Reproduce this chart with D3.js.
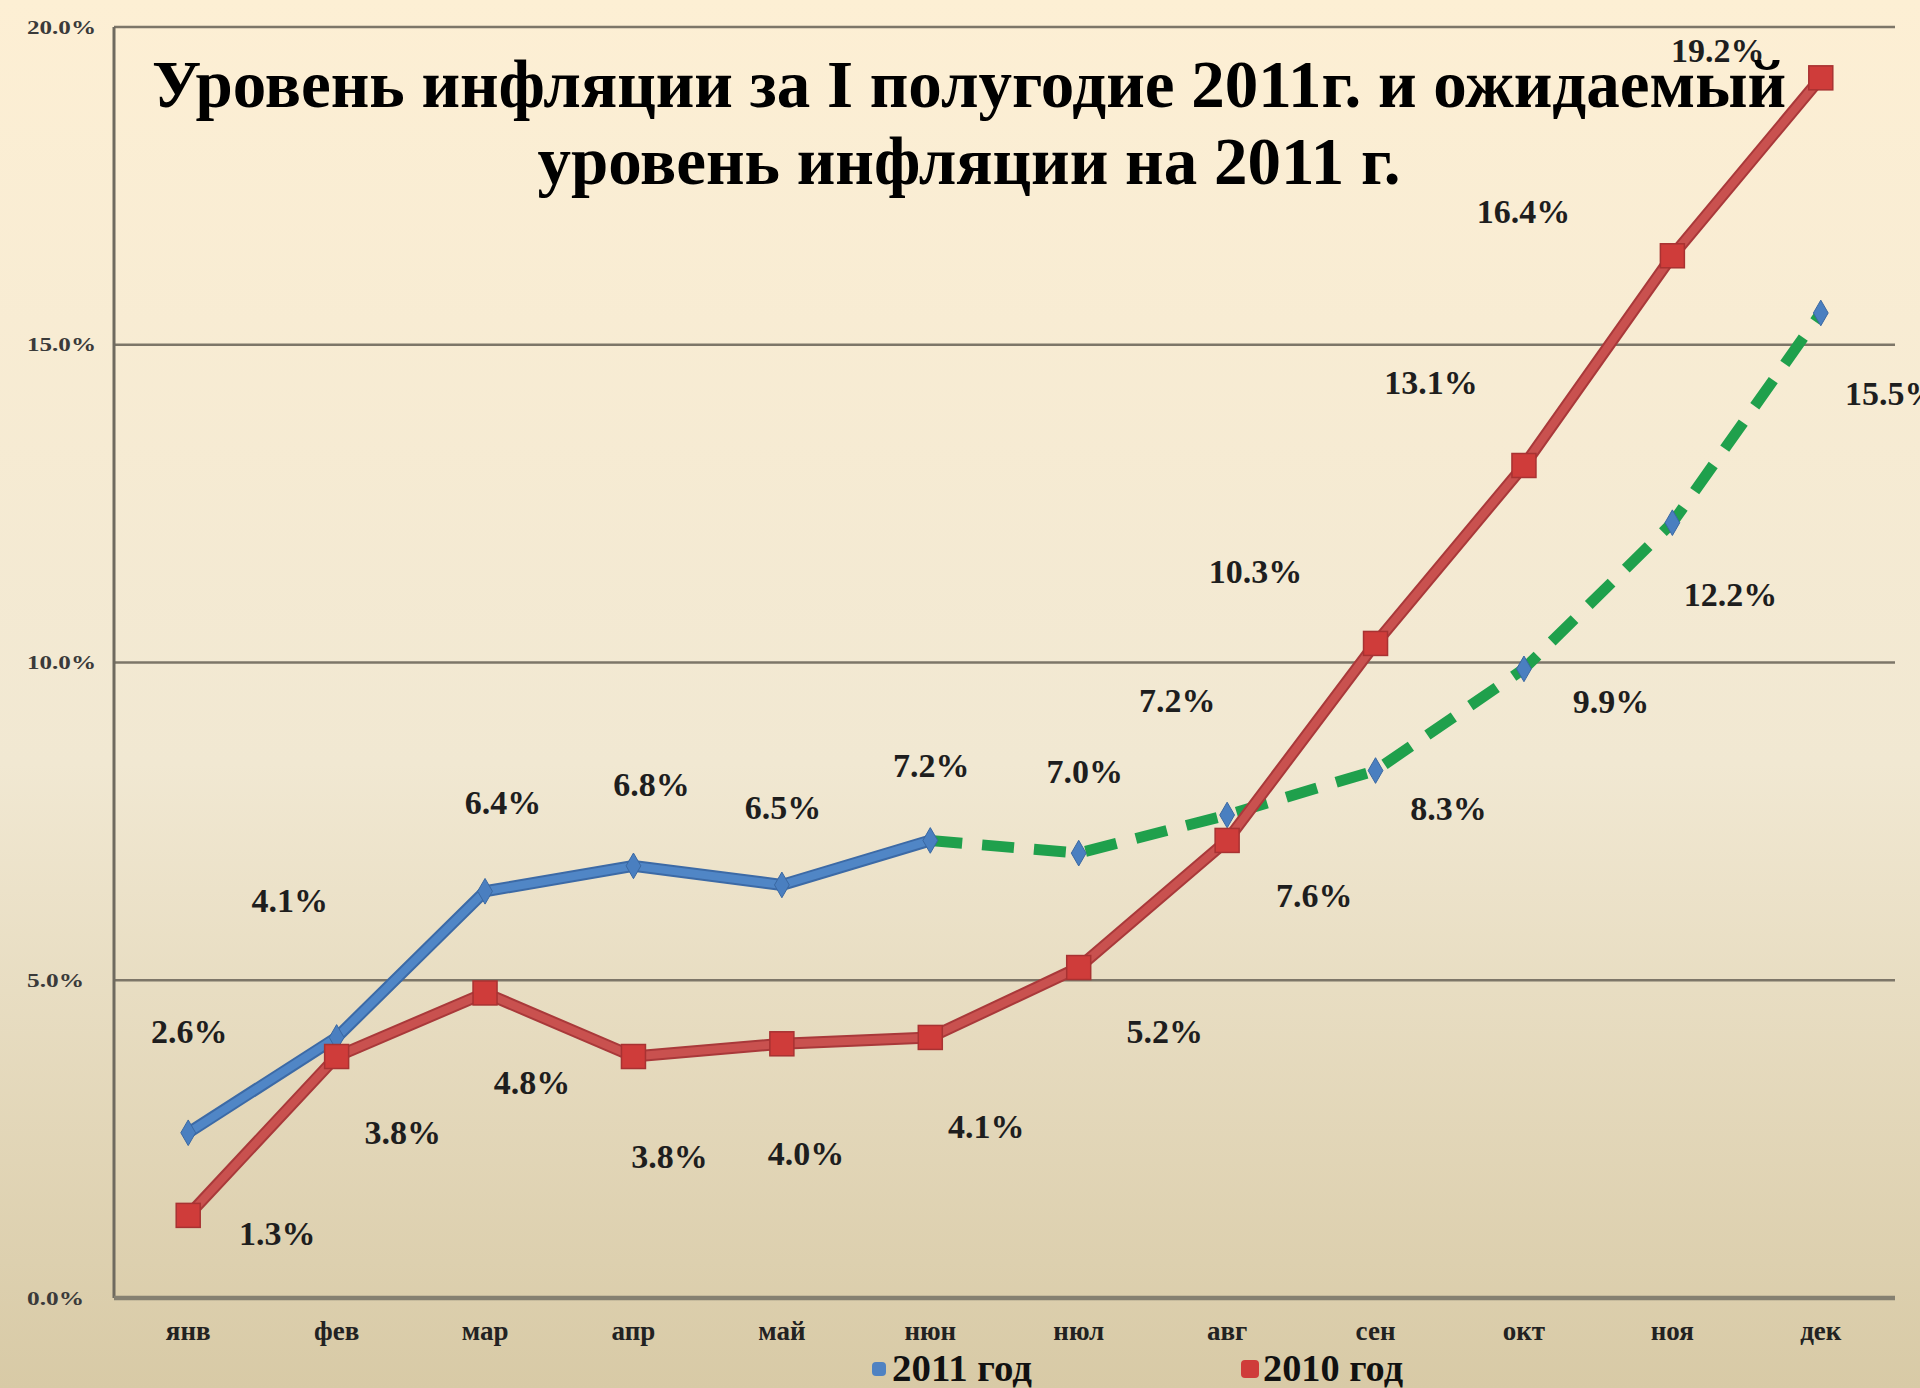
<!DOCTYPE html>
<meta charset="utf-8">
<script src="https://d3js.org/d3.v7.min.js"></script>
<style>
  body { margin: 0; }
  svg { display: block; }
</style>
<div id="my_dataviz"></div>
<script>

// months on the x axis
var months = ["янв", "фев", "мар", "апр", "май", "нюн", "нюл", "авг", "сен", "окт", "ноя", "дек"];

// 2011 actual (first half), 2011 forecast (second half), 2010
var actual2011 = [2.6, 4.1, 6.4, 6.8, 6.5, 7.2];
var forecast2011 = [7.2, 7.0, 7.6, 8.3, 9.9, 12.2, 15.5];   // starts at нюн
var values2010 = [1.3, 3.8, 4.8, 3.8, 4.0, 4.1, 5.2, 7.2, 10.3, 13.1, 16.4, 19.2];

var yTicks = [0, 5, 10, 15, 20];
var titleLines = ["Уровень инфляции за I полугодие 2011г. и ожидаемый", "уровень инфляции на 2011 г."];
var legendNames = ["2011 год", "2010 год"];

// where each data label sits relative to its point (px)
var offActual = [[1,-102],[-47,-137],[18,-89],[18,-82],[1,-78],[1,-75]];
var offForecast = [null,[6,-82],[87,80],[73,38],[87,32],[58,71],[71,80]];
var off2010 = [[89,18],[66,76],[47,89],[36,100],[24,109],[56,89],[86,64],[-50,-140],[-120,-72],[-93,-83],[-149,-45],[-103,-28]];

var W = 1920, H = 1388;
var margin = {top: 27, right: 25, bottom: 90, left: 114};
var width = W - margin.left - margin.right,
    height = H - margin.top - margin.bottom;

var serif = "'Liberation Serif', 'Times New Roman', serif";

var svg = d3.select("#my_dataviz")
  .append("svg")
    .attr("width", W)
    .attr("height", H);

// background gradient
var grad = svg.append("defs").append("linearGradient")
    .attr("id", "bg").attr("x1", 0).attr("y1", 0).attr("x2", 0).attr("y2", 1);
grad.append("stop").attr("offset", "0%").attr("stop-color", "#fdefd4");
grad.append("stop").attr("offset", "55%").attr("stop-color", "#f1e8d2");
grad.append("stop").attr("offset", "100%").attr("stop-color", "#d8caa6");
svg.append("rect").attr("width", W).attr("height", H).attr("fill", "url(#bg)");

var g = svg.append("g")
    .attr("transform", "translate(" + margin.left + "," + margin.top + ")");

var x = d3.scaleBand()
  .domain(months)
  .range([0, width]);
var cx = function(m) { return x(m) + x.bandwidth() / 2; };

var y = d3.scaleLinear()
  .domain([0, 20])
  .range([height, 0]);

// gridlines
g.selectAll(".grid")
  .data(yTicks.filter(function(d){ return d > 0; }))
  .enter()
  .append("line")
    .attr("x1", 0)
    .attr("x2", width)
    .attr("y1", function(d){ return y(d); })
    .attr("y2", function(d){ return y(d); })
    .attr("stroke", "#7d7668")
    .attr("stroke-width", 2.5);

// y tick labels (left aligned in the original)
svg.selectAll(".ytick")
  .data(yTicks)
  .enter()
  .append("text")
    .attr("x", 27)
    .attr("y", function(d){ return margin.top + y(d); })
    .attr("dy", "0.35em")
    .style("font-family", serif)
    .style("font-weight", "bold")
    .style("font-size", "19px")
    .attr("fill", "#3a3a3a")
    .attr("textLength", function(d){ return d >= 10 ? 69 : 57; })
    .attr("lengthAdjust", "spacingAndGlyphs")
    .text(function(d){ return d.toFixed(1) + "%"; });

// axes lines
g.append("line")
  .attr("x1", 0).attr("x2", 0).attr("y1", 0).attr("y2", height)
  .attr("stroke", "#6f6a5f").attr("stroke-width", 3);
g.append("line")
  .attr("x1", 0).attr("x2", width).attr("y1", height).attr("y2", height)
  .attr("stroke", "#858071").attr("stroke-width", 4.5);

// x labels
g.selectAll(".xlab")
  .data(months)
  .enter()
  .append("text")
    .attr("x", function(d){ return cx(d); })
    .attr("y", height + 42)
    .attr("text-anchor", "middle")
    .style("font-family", serif)
    .style("font-weight", "bold")
    .style("font-size", "27px")
    .attr("fill", "#222")
    .text(function(d){ return d; });

// title
svg.selectAll(".title")
  .data(titleLines)
  .enter()
  .append("text")
    .attr("x", 969)
    .attr("y", function(d, i){ return 107 + i * 77; })
    .attr("text-anchor", "middle")
    .style("font-family", serif)
    .style("font-weight", "bold")
    .style("font-size", "67px")
    .attr("fill", "#000")
    .text(function(d){ return d; });

var line = d3.line()
  .x(function(d){ return cx(d.m); })
  .y(function(d){ return y(d.v); });

var actualPts = actual2011.map(function(v, i){ return {m: months[i], v: v}; });
var forecastPts = forecast2011.map(function(v, i){ return {m: months[i + 5], v: v}; });
var pts2010 = values2010.map(function(v, i){ return {m: months[i], v: v}; });

// 2011 actual line
g.append("path").datum(actualPts)
  .attr("d", line).attr("fill", "none")
  .attr("stroke", "#3c6aa6").attr("stroke-width", 12).attr("stroke-linejoin", "round");
g.append("path").datum(actualPts)
  .attr("d", line).attr("fill", "none")
  .attr("stroke", "#5086c6").attr("stroke-width", 8).attr("stroke-linejoin", "round");

// 2011 forecast dashed
g.append("path").datum(forecastPts)
  .attr("d", line).attr("fill", "none")
  .attr("stroke", "#1fa04c").attr("stroke-width", 11)
  .attr("stroke-dasharray", "32,20");

// blue diamonds
var diamond = d3.symbol().type(d3.symbolDiamond).size(190);
g.selectAll(".dia")
  .data(actualPts.concat(forecastPts.slice(1)))
  .enter()
  .append("path")
    .attr("d", diamond)
    .attr("transform", function(d){ return "translate(" + cx(d.m) + "," + y(d.v) + ")"; })
    .attr("fill", "#4a7fc0")
    .attr("stroke", "#3a68a2")
    .attr("stroke-width", 1);

// 2010 line
g.append("path").datum(pts2010)
  .attr("d", line).attr("fill", "none")
  .attr("stroke", "#a9393a").attr("stroke-width", 12).attr("stroke-linejoin", "round");
g.append("path").datum(pts2010)
  .attr("d", line).attr("fill", "none")
  .attr("stroke", "#c9514f").attr("stroke-width", 8).attr("stroke-linejoin", "round");

g.selectAll(".sq")
  .data(pts2010)
  .enter()
  .append("rect")
    .attr("x", function(d){ return cx(d.m) - 12; })
    .attr("y", function(d){ return y(d.v) - 12; })
    .attr("width", 24)
    .attr("height", 24)
    .attr("fill", "#cf3c3a")
    .attr("stroke", "#a83232")
    .attr("stroke-width", 1.5);

// data labels
function addLabels(pts, offs) {
  var shown = pts.filter(function(d, i){ return offs[i]; });
  g.selectAll(null)
    .data(shown)
    .enter()
    .append("text")
      .attr("x", function(d){ return cx(d.m) + offs[pts.indexOf(d)][0]; })
      .attr("y", function(d){ return y(d.v) + offs[pts.indexOf(d)][1]; })
      .attr("dy", "0.35em")
      .attr("text-anchor", "middle")
      .style("font-family", serif)
      .style("font-weight", "bold")
      .style("font-size", "34px")
      .attr("fill", "#1e1e1e")
      .text(function(d){ return d.v.toFixed(1) + "%"; });
}
addLabels(actualPts, offActual);
addLabels(forecastPts, offForecast);
addLabels(pts2010, off2010);

// legend
var legend = svg.append("g");
var legendX = [879, 1250];
var legendCol = ["#4f82c2", "#cf3c3a"];
legend.selectAll("rect")
  .data(legendNames)
  .enter()
  .append("rect")
    .attr("x", function(d, i){ return legendX[i] - (i ? 9 : 7); })
    .attr("y", function(d, i){ return 1369 - (i ? 9 : 7); })
    .attr("width", function(d, i){ return i ? 18 : 14; })
    .attr("height", function(d, i){ return i ? 18 : 14; })
    .attr("rx", 4)
    .attr("fill", function(d, i){ return legendCol[i]; });
legend.selectAll("text")
  .data(legendNames)
  .enter()
  .append("text")
    .attr("x", function(d, i){ return legendX[i] + 13; })
    .attr("y", 1381)
    .style("font-family", serif)
    .style("font-weight", "bold")
    .style("font-size", "38px")
    .attr("fill", "#111")
    .attr("textLength", 140)
    .attr("lengthAdjust", "spacingAndGlyphs")
    .text(function(d){ return d; });

</script>
